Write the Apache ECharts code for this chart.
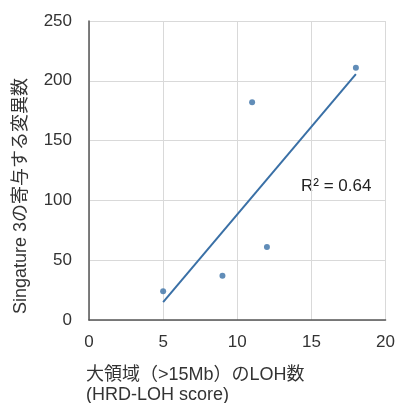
<!DOCTYPE html>
<html><head><meta charset="utf-8">
<script src="https://cdn.jsdelivr.net/npm/echarts@6/dist/echarts.min.js"></script>
<style>html,body{margin:0;padding:0;background:#fff}#c{width:398px;height:403px}</style>
</head><body><div id="c"></div>
<script>
var lohScores = [5, 9, 11, 12, 18];
var sig3Counts = [24, 37, 182, 61, 211];
var xTicks = [0, 5, 10, 15, 20];
var yTicks = [0, 50, 100, 150, 200, 250];
var yTitle = 'Singature 3の寄与する変異数';
var xTitle1 = '大領域（>15Mb）のLOH数';
var xTitle2 = '(HRD-LOH score)';

var n = lohScores.length, mx = 0, my = 0;
for (var i = 0; i < n; i++) { mx += lohScores[i]; my += sig3Counts[i]; }
mx /= n; my /= n;
var sxx = 0, sxy = 0, syy = 0;
for (i = 0; i < n; i++) {
  sxx += (lohScores[i]-mx)*(lohScores[i]-mx);
  sxy += (lohScores[i]-mx)*(sig3Counts[i]-my);
  syy += (sig3Counts[i]-my)*(sig3Counts[i]-my);
}
var slope = sxy/sxx, icpt = my - slope*mx, r2 = sxy*sxy/(sxx*syy);
var xmin = Math.min.apply(null, lohScores), xmax = Math.max.apply(null, lohScores);
var trend = [[xmin, icpt + slope*xmin], [xmax, icpt + slope*xmax]];
var pts = lohScores.map(function(x, i){ return [x, sig3Counts[i]]; });

var FF = '"Liberation Sans", Arial, "Noto Sans CJK JP", sans-serif';
var chart = echarts.init(document.getElementById('c'), null, {renderer: 'canvas'});
chart.setOption({
  animation: false,
  grid: {left: 89, right: 9, top: 21, bottom: 83, containLabel: false},
  xAxis: {
    type: 'value', min: xTicks[0], max: xTicks[xTicks.length-1], interval: 5,
    axisLine: {show: true, onZero: false, lineStyle: {color: '#555', width: 1.5}},
    axisTick: {show: false},
    axisLabel: {color: '#333', fontSize: 17, fontFamily: FF, margin: 14},
    splitLine: {show: true, lineStyle: {color: '#d9d9d9'}}
  },
  yAxis: {
    type: 'value', min: yTicks[0], max: yTicks[yTicks.length-1], interval: 50,
    axisLine: {show: true, lineStyle: {color: '#555', width: 1.5}},
    axisTick: {show: false},
    axisLabel: {color: '#333', fontSize: 17, fontFamily: FF, margin: 17},
    splitLine: {show: true, lineStyle: {color: '#d9d9d9'}}
  },
  series: [
    {type: 'scatter', data: pts, symbolSize: 6, itemStyle: {color: '#3a70a6'}, z: 3},
    {type: 'line', data: trend, showSymbol: false, lineStyle: {color: '#3a70a6', width: 2}, z: 2}
  ],
  graphic: [
    {type: 'text', x: 21, y: 196, rotation: Math.PI/2, style: {text: yTitle, fill: '#333', font: '18px ' + FF, textAlign: 'center', textVerticalAlign: 'middle'}},
    {type: 'text', x: 86, y: 375, style: {text: xTitle1, fill: '#333', font: '18px ' + FF, textAlign: 'left', textVerticalAlign: 'middle'}},
    {type: 'text', x: 86, y: 395, style: {text: xTitle2, fill: '#333', font: '18px ' + FF, textAlign: 'left', textVerticalAlign: 'middle'}},
    {type: 'text', x: 301, y: 186, style: {text: 'R² = ' + r2.toFixed(2), fill: '#222', font: '17px ' + FF, textAlign: 'left', textVerticalAlign: 'middle'}}
  ]
});
</script></body></html>
